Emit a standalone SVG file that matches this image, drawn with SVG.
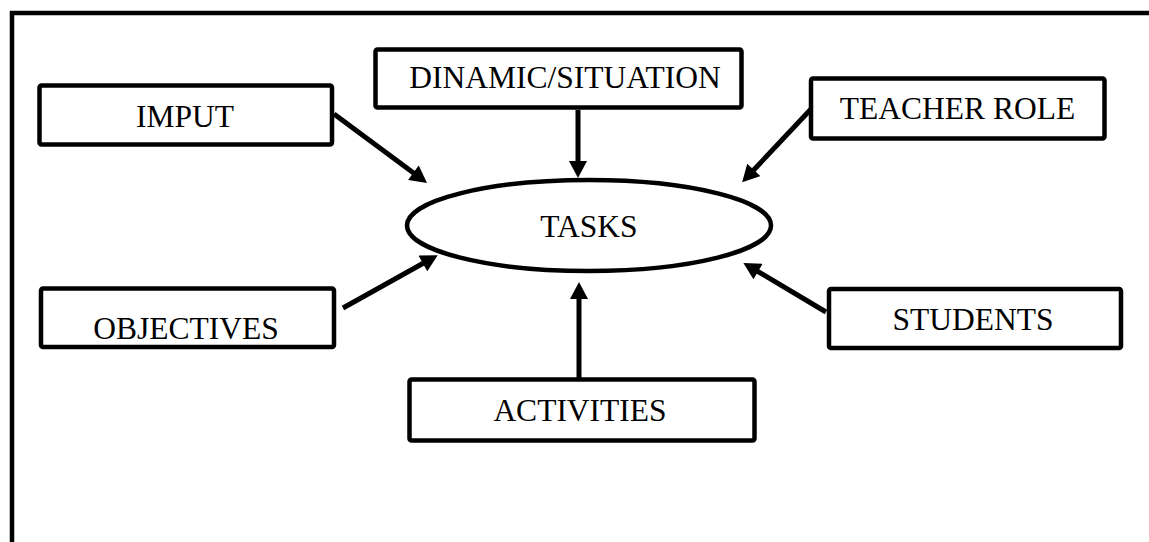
<svg xmlns="http://www.w3.org/2000/svg" width="1149" height="542" viewBox="0 0 1149 542">
  <style>
    .box { fill: #ffffff; stroke: #000000; stroke-width: 4.5; }
    .lbl { font-family: "Liberation Serif", "Times New Roman", serif; font-size: 31.5px; fill: #000000; text-anchor: middle; }
    .conn { stroke: #000000; stroke-width: 5; fill: none; marker-end: url(#arrow); }
  </style>
  <defs>
    <marker id="arrow" markerUnits="userSpaceOnUse" markerWidth="18" markerHeight="18" refX="7" refY="9" orient="auto" viewBox="0 0 17 18">
      <path d="M0,0 L17,9 L0,18 z" fill="#000000"/>
    </marker>
  </defs>
  <rect x="0" y="0" width="1149" height="542" fill="#ffffff"/>
  <g id="frame">
    <rect x="12" y="13" width="1145" height="540" fill="none" stroke="#000000" stroke-width="4.5"/>
  </g>
  <g id="connectors">
    <line class="conn" x1="334" y1="114" x2="419" y2="177"/>
    <line class="conn" x1="578" y1="110" x2="578" y2="168"/>
    <line class="conn" x1="812" y1="108" x2="749" y2="175"/>
    <line class="conn" x1="343" y1="308" x2="429" y2="260"/>
    <line class="conn" x1="579" y1="378" x2="579" y2="292"/>
    <line class="conn" x1="826" y1="312" x2="752" y2="268"/>
  </g>
  <g id="tasks">
    <ellipse cx="589" cy="225.5" rx="182" ry="45.5" fill="#ffffff" stroke="#000000" stroke-width="4.5"/>
    <text class="lbl" x="589" y="237">TASKS</text>
  </g>
  <g id="imput">
    <rect class="box" x="39.5" y="85.5" width="292.5" height="59" rx="2"/>
    <text class="lbl" x="185" y="127">IMPUT</text>
  </g>
  <g id="dinamic">
    <rect class="box" x="375.5" y="49.5" width="366" height="58" rx="2"/>
    <text class="lbl" x="565" y="88">DINAMIC/SITUATION</text>
  </g>
  <g id="teacher">
    <rect class="box" x="811" y="78.5" width="293.5" height="60" rx="2"/>
    <text class="lbl" x="957.5" y="119">TEACHER ROLE</text>
  </g>
  <g id="objectives">
    <rect class="box" x="41" y="288.5" width="293" height="58.5" rx="2"/>
    <text class="lbl" x="186" y="339">OBJECTIVES</text>
  </g>
  <g id="students">
    <rect class="box" x="829" y="289" width="292" height="59" rx="2"/>
    <text class="lbl" x="973" y="330">STUDENTS</text>
  </g>
  <g id="activities">
    <rect class="box" x="409.5" y="379.5" width="345" height="61" rx="2"/>
    <text class="lbl" x="580" y="421">ACTIVITIES</text>
  </g>
</svg>
